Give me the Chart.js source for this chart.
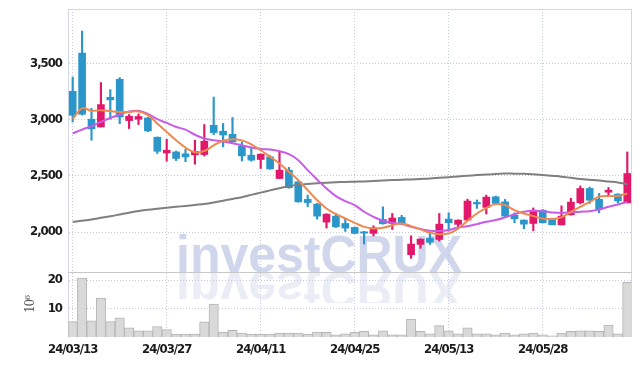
<!DOCTYPE html>
<html>
<head>
<meta charset="utf-8">
<script src="https://cdn.jsdelivr.net/npm/chart.js@4/dist/chart.umd.min.js"></script>
<style>
  html, body { margin: 0; padding: 0; background: #fff; }
</style>
</head>
<body>
<canvas id="chart" width="642" height="366"></canvas>
<script>
// ===== data =====
const dates = [
  '24/03/13','24/03/14','24/03/15','24/03/18','24/03/19','24/03/20','24/03/21','24/03/22','24/03/25','24/03/26',
  '24/03/27','24/03/28','24/03/29','24/04/01','24/04/02','24/04/03','24/04/04','24/04/05','24/04/08','24/04/09',
  '24/04/11','24/04/12','24/04/15','24/04/16','24/04/17','24/04/18','24/04/19','24/04/22','24/04/23','24/04/24',
  '24/04/25','24/04/26','24/04/29','24/04/30','24/05/02','24/05/03','24/05/07','24/05/08','24/05/09','24/05/10',
  '24/05/13','24/05/14','24/05/16','24/05/17','24/05/20','24/05/21','24/05/22','24/05/23','24/05/24','24/05/27',
  '24/05/28','24/05/29','24/05/30','24/05/31','24/06/03','24/06/04','24/06/05','24/06/07','24/06/10','24/06/11'
];
const opens = [
  3251, 3591, 3003, 2934, 3198, 3358, 2991, 3003, 3014, 2843,
  2703, 2712, 2695, 2686, 2689, 2949, 2896, 2869, 2763, 2683,
  2645, 2668, 2476, 2550, 2446, 2290, 2248, 2088, 2141, 2076,
  2041, 2002, 1988, 2112, 2076, 2130, 1798, 1890, 1946, 1934,
  2115, 2068, 2106, 2263, 2219, 2313, 2268, 2150, 2106, 2076,
  2194, 2112, 2064, 2153, 2260, 2387, 2290, 2354, 2337, 2260
];
const highs = [
  3378, 3787, 3100, 3329, 3266, 3373, 3045, 3050, 3020, 2845,
  2825, 2720, 2735, 2816, 2956, 3200, 2965, 3018, 2800, 2748,
  2695, 2680, 2719, 2575, 2450, 2328, 2255, 2162, 2165, 2120,
  2045, 2005, 2055, 2224, 2165, 2148, 1966, 1940, 1988, 2165,
  2171, 2108, 2292, 2285, 2328, 2320, 2290, 2170, 2108, 2214,
  2200, 2115, 2233, 2300, 2410, 2400, 2343, 2396, 2340, 2712
];
const lows = [
  2979, 3040, 2816, 2934, 3003, 2964, 2920, 2956, 2893, 2698,
  2630, 2635, 2625, 2603, 2675, 2866, 2757, 2800, 2632, 2630,
  2565, 2558, 2474, 2390, 2265, 2224, 2115, 2035, 2040, 2005,
  1985, 1893, 1965, 2070, 2023, 2074, 1766, 1855, 1890, 1919,
  2008, 2041, 2100, 2210, 2160, 2250, 2138, 2082, 2029, 2011,
  2080, 2064, 2062, 2150, 2250, 2254, 2171, 2320, 2260, 2258
];
const closes = [
  3038, 3047, 2917, 3133, 3175, 3023, 3029, 3027, 2899, 2718,
  2727, 2654, 2668, 2716, 2807, 2884, 2863, 2801, 2677, 2639,
  2692, 2561, 2550, 2393, 2268, 2262, 2141, 2159, 2046, 2035,
  1988, 1990, 2037, 2073, 2124, 2076, 1893, 1937, 1908, 2070,
  2082, 2106, 2275, 2250, 2310, 2254, 2141, 2117, 2070, 2194,
  2082, 2064, 2141, 2266, 2387, 2283, 2204, 2372, 2277, 2520
];
// moving averages (orange = short, purple = mid, gray = long)
const maShort = [
  3005, 3100, 3078, 3083, 3075, 3068, 3068, 3072, 3040, 2965,
  2890, 2816, 2750, 2710, 2720, 2770, 2812, 2825, 2815, 2780,
  2727, 2668, 2609, 2535, 2461, 2372, 2283, 2209, 2159, 2121,
  2082, 2046, 2032, 2037, 2061, 2076, 2052, 2023, 1993, 1981,
  1988, 2030, 2100, 2165, 2212, 2248, 2239, 2194, 2165, 2141,
  2121, 2115, 2130, 2180, 2224, 2268, 2313, 2320, 2320, 2343
];
const maMid = [
  2876, 2911, 2941, 2979, 3014, 3044, 3072, 3078, 3050, 3003,
  2970, 2934, 2911, 2865, 2831, 2816, 2805, 2790, 2772, 2751,
  2739, 2734, 2719, 2692, 2639, 2550, 2467, 2387, 2319, 2274,
  2239, 2180, 2135, 2100, 2082, 2070, 2046, 2026, 2011, 2008,
  2017, 2041, 2052, 2070, 2091, 2106, 2130, 2159, 2180, 2188,
  2185, 2174, 2171, 2174, 2180, 2185, 2200, 2224, 2245, 2268
];
const maLong = [
  2091, 2100, 2112, 2126, 2140, 2156, 2172, 2186, 2198, 2207,
  2215, 2224, 2232, 2241, 2250, 2263, 2278, 2294, 2310, 2330,
  2350, 2370, 2390, 2407, 2420, 2428, 2433, 2438, 2442, 2445,
  2447, 2450, 2454, 2458, 2462, 2465, 2468, 2472, 2476, 2482,
  2488, 2494, 2500, 2506, 2512, 2516, 2520, 2519, 2517, 2513,
  2508, 2500, 2492, 2482, 2472, 2465, 2458, 2449, 2440, 2425
];
// volume, in millions of shares
const volumes = [
  5.4, 20.7, 5.7, 13.7, 5.4, 6.7, 3.2, 2.2, 2.2, 3.7,
  2.6, 1.05, 1.05, 1.05, 5.3, 11.6, 1.75, 2.3, 1.4, 1.05,
  1.05, 1.05, 1.4, 1.4, 1.4, 1.05, 1.75, 1.6, 0.8, 1.15,
  1.6, 2.0, 0.8, 2.2, 0.8, 0.8, 6.3, 2.0, 1.15, 4.0,
  2.2, 1.15, 3.2, 1.15, 1.15, 0.8, 1.4, 0.8, 1.15, 1.4,
  0.8, 0.45, 1.4, 2.0, 2.2, 2.2, 2.0, 4.2, 1.15, 19.2
];
const priceTicks = [2000, 2500, 3000, 3500];
const volumeTicks = [10, 20];
const labelEvery = 10;

// ===== styles =====
const UP = '#e2186b';
const DOWN = '#2b96c9';
const GRID = '#c5c9dc';
const TICK_FONT = { family: "'DejaVu Sans Condensed', 'DejaVu Sans', sans-serif", size: 13, weight: 'bold' };

const candleColors = closes.map((c, i) => c >= opens[i] ? UP : DOWN);

// fixed axis boxes so the plot sits where the reference has it
const fixWidth = s => { s.width = 68; s.paddingTop = 0; s.paddingBottom = 0; };

// the reference uses a tight condensed face for the axis text
const tightText = {
  id: 'tightText',
  beforeDraw(chart) { chart.ctx.letterSpacing = '-1px'; },
  beforeDatasetsDraw(chart) { chart.ctx.letterSpacing = '0px'; }
};

// watermark with its reflection, sitting on the price/volume divide
const watermark = {
  id: 'watermark',
  beforeDatasetsDraw(chart) {
    const { ctx, chartArea } = chart;
    const base = chart.scales.y.bottom;
    const text = 'investCRUX';
    ctx.save();
    ctx.font = 'bold 52px "Liberation Sans", sans-serif';
    const sx = 286 / ctx.measureText(text).width;
    ctx.translate(chartArea.left + 108, base);
    ctx.scale(sx, 1);
    ctx.fillStyle = 'rgba(188,197,226,0.7)';
    ctx.fillText(text, 0, 0);
    ctx.restore();

    ctx.save();
    ctx.beginPath();
    ctx.rect(chartArea.left, base, chartArea.right - chartArea.left, 31);
    ctx.clip();
    ctx.font = 'bold 52px "Liberation Sans", sans-serif';
    ctx.translate(chartArea.left + 108, base);
    ctx.scale(sx, -1);
    ctx.fillStyle = 'rgba(205,211,232,0.42)';
    ctx.fillText(text, 0, 0);
    ctx.restore();
  }
};

// light frame and the line between the two panes
const frame = {
  id: 'frame',
  afterDraw(chart) {
    const { ctx, chartArea } = chart;
    const split = Math.round(chart.scales.y.bottom) + 0.5;
    ctx.save();
    ctx.lineWidth = 1;
    ctx.strokeStyle = '#d6d6d6';
    ctx.beginPath();
    ctx.moveTo(chartArea.left, Math.round(chartArea.top) + 0.5);
    ctx.lineTo(chartArea.right, Math.round(chartArea.top) + 0.5);
    ctx.moveTo(Math.round(chartArea.right) - 0.5, chartArea.top);
    ctx.lineTo(Math.round(chartArea.right) - 0.5, chartArea.bottom);
    ctx.stroke();
    ctx.strokeStyle = '#c8c8c8';
    ctx.beginPath();
    ctx.moveTo(chartArea.left, split);
    ctx.lineTo(chartArea.right, split);
    ctx.stroke();
    ctx.restore();
  }
};

const lineSet = (data, color) => ({
  type: 'line',
  data,
  yAxisID: 'y',
  borderColor: color,
  borderWidth: 2,
  pointRadius: 0,
  tension: 0.4,
  order: 0
});

new Chart(document.getElementById('chart'), {
  type: 'bar',
  data: {
    labels: dates,
    datasets: [
      lineSet(maShort, '#ee8a50'),
      lineSet(maMid, '#c95ce6'),
      lineSet(maLong, '#7f7f7f'),
      {
        data: opens.map((o, i) => [o, closes[i]]),
        yAxisID: 'y',
        backgroundColor: candleColors,
        barThickness: 7,
        grouped: false,
        order: 1
      },
      {
        data: lows.map((l, i) => [l, highs[i]]),
        yAxisID: 'y',
        backgroundColor: candleColors,
        barThickness: 1.5,
        grouped: false,
        order: 2
      },
      {
        data: volumes,
        yAxisID: 'yv',
        backgroundColor: '#d9d9d9',
        borderColor: '#b5b5b5',
        borderWidth: 1,
        barPercentage: 1,
        categoryPercentage: 1,
        grouped: false,
        order: 3
      }
    ]
  },
  options: {
    responsive: false,
    animation: false,
    layout: { padding: { left: 0, right: 10, top: 9, bottom: 0 } },
    plugins: { legend: { display: false }, tooltip: { enabled: false } },
    scales: {
      x: {
        offset: true,
        afterFit: s => { s.height = 29; },
        grid: {
          offset: false,
          drawTicks: false,
          color: c => c.index % labelEvery === 0 ? GRID : 'rgba(0,0,0,0)'
        },
        border: { display: false, dash: [1, 2] },
        ticks: {
          autoSkip: false,
          maxRotation: 0,
          padding: 5,
          color: '#1a1a1a',
          font: TICK_FONT,
          callback: (v, i) => i % labelEvery === 0 ? dates[i] : ''
        }
      },
      y: {
        type: 'linear',
        position: 'left',
        stack: 'panes',
        stackWeight: 4.05,
        weight: 1,
        min: 1644,
        max: 3983,
        afterBuildTicks: s => { s.ticks = priceTicks.map(v => ({ value: v })); },
        afterFit: fixWidth,
        grid: { color: GRID, drawTicks: false },
        border: { color: '#d3d7e6', dash: [1, 2] },
        ticks: {
          padding: 6,
          color: '#1a1a1a',
          font: TICK_FONT,
          callback: v => v.toLocaleString('en-US')
        }
      },
      yv: {
        type: 'linear',
        position: 'left',
        stack: 'panes',
        stackWeight: 1,
        weight: 0,
        min: 0,
        max: 22.8,
        afterBuildTicks: s => { s.ticks = volumeTicks.map(v => ({ value: v })); },
        afterFit: fixWidth,
        grid: { color: GRID, drawTicks: false },
        border: { color: '#d3d7e6', dash: [1, 2] },
        title: {
          display: true,
          text: '10⁶',
          color: '#555',
          font: { family: "'DejaVu Serif', serif", size: 12 },
          padding: { top: 24, bottom: 0 }
        },
        ticks: { padding: 6, color: '#1a1a1a', font: TICK_FONT }
      }
    }
  },
  plugins: [tightText, watermark, frame]
});
</script>
</body>
</html>
